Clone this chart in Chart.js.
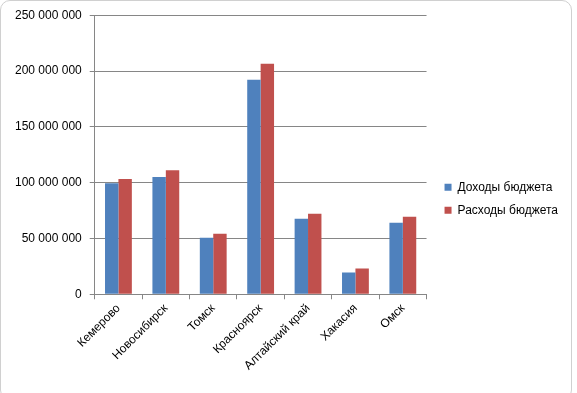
<!DOCTYPE html>
<html>
<head>
<meta charset="utf-8">
<script src="https://cdn.jsdelivr.net/npm/chart.js@4"></script>
<style>
  html, body { margin: 0; padding: 0; background: #fff; }
  #frame {
    position: absolute; left: 0; top: 0;
    width: 572px; height: 400px;
    border: 1px solid #d0d0d0; border-radius: 10px;
    box-sizing: border-box;
  }
  #wrap { position: absolute; left: 0; top: 0; width: 577px; height: 393px; }
</style>
</head>
<body>
<div id="frame"></div>
<div id="wrap"><canvas id="grafico"></canvas></div>
<script>
// Данные бюджета по регионам
const regiones = ['Кемерово', 'Новосибирск', 'Томск', 'Красноярск', 'Алтайский край', 'Хакасия', 'Омск'];
const dohody = [99500000, 105000000, 50700000, 192200000, 67600000, 19600000, 64100000];
const rashody = [103200000, 111200000, 54300000, 206400000, 72100000, 23100000, 69400000];
const ejeY = [0, 50000000, 100000000, 150000000, 200000000, 250000000];

function formatoMiles(v) {
  return String(v).replace(/\B(?=(\d{3})+(?!\d))/g, ' ');
}

// mueve la leyenda un poco, como en Excel
const moverLeyenda = {
  id: 'moverLeyenda',
  afterLayout(chart) {
    const l = chart.legend;
    l.left += 7;
    l.right += 7;
    l.top += 9;
    l.bottom += 9;
  }
};

const ctx = document.getElementById('grafico').getContext('2d');
new Chart(ctx, {
  type: 'bar',
  data: {
    labels: regiones,
    datasets: [{
      label: 'Доходы бюджета',
      data: dohody,
      backgroundColor: '#4F81BD',
      borderWidth: 0
    }, {
      label: 'Расходы бюджета',
      data: rashody,
      backgroundColor: '#C0504D',
      borderWidth: 0
    }]
  },
  options: {
    responsive: true,
    maintainAspectRatio: false,
    animation: false,
    layout: { padding: { left: 7, top: 4.5, right: 16, bottom: 18 } },
    font: { family: 'Liberation Sans', size: 12 },
    color: '#000',
    plugins: {
      tooltip: { enabled: false },
      legend: {
        position: 'right',
        labels: {
          boxWidth: 7,
          boxHeight: 7,
          padding: 11,
          color: '#000',
          font: { family: 'Liberation Sans', size: 12 }
        }
      }
    },
    datasets: {
      bar: { categoryPercentage: 0.566, barPercentage: 1 }
    },
    scales: {
      x: {
        grid: {
          display: true,
          drawOnChartArea: false,
          drawTicks: true,
          tickLength: 5,
          color: '#868686',
          offset: true
        },
        border: { color: '#868686', width: 1 },
        ticks: {
          color: '#000',
          minRotation: 45,
          maxRotation: 45,
          padding: 2,
          font: { family: 'Liberation Sans', size: 12 }
        }
      },
      y: {
        min: 0,
        max: 250000000,
        afterBuildTicks(scale) {
          scale.ticks = ejeY.map(v => ({ value: v }));
        },
        grid: {
          color: '#868686',
          tickLength: 5
        },
        border: { color: '#868686', width: 1 },
        ticks: {
          color: '#000',
          padding: 8,
          font: { family: 'Liberation Sans', size: 12 },
          callback: v => formatoMiles(v)
        }
      }
    }
  },
  plugins: [moverLeyenda]
});
</script>
</body>
</html>
